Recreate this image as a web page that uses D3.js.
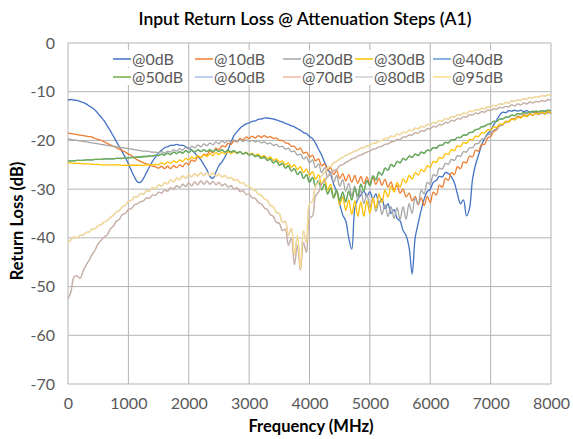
<!DOCTYPE html>
<html><head><meta charset="utf-8">
<script src="https://cdn.jsdelivr.net/npm/d3@7/dist/d3.min.js"></script>
<style>body{margin:0;background:#fff;}svg{display:block;font-family:Lato,"Noto Sans",sans-serif;}</style>
</head><body>
<svg id="c" width="573" height="439"></svg>
<script>
// Frequency sample grid (MHz), one sample every 50 MHz from 0 to 8000
const freqMHz = d3.range(0, 8001, 50);

const seriesNames = ["@0dB","@10dB","@20dB","@30dB","@40dB","@50dB","@60dB","@70dB","@80dB","@95dB"];
const seriesColors = ["#4472C4","#ED7D31","#A5A5A5","#FFC000","#5B9BD5","#70AD47","#A9C0E8","#F4B9A0","#B0B0B0","#FFDB8A"];
const legendColors = ["#4472C4","#ED7D31","#A5A5A5","#FFC000","#5B9BD5","#70AD47","#A9C0E8","#F4B9A0","#CFCFCF","#FFDB8A"];
const xTicks = [0,1000,2000,3000,4000,5000,6000,7000,8000];
const yTicks = [0,-10,-20,-30,-40,-50,-60,-70];

const rl0 = [-11.7,-11.6,-11.7,-11.8,-12.0,-12.2,-12.5,-12.9,-13.3,-13.8,-14.5,-15.2,-16.0,-17.0,-18.0,-19.1,-20.2,-21.3,-22.4,-23.5,
-24.8,-26.2,-27.5,-28.5,-28.6,-27.8,-26.6,-25.4,-24.3,-23.4,-22.6,-22.0,-21.5,-21.3,-21.0,-21.0,-20.8,-21.0,-21.0,-21.3,
-21.6,-22.0,-22.6,-23.3,-24.0,-25.0,-26.0,-27.4,-27.8,-26.5,-25.2,-24.4,-23.4,-22.0,-20.3,-19.0,-18.2,-17.5,-17.0,-16.6,
-16.4,-16.1,-16.0,-15.7,-15.6,-15.4,-15.4,-15.5,-15.6,-15.8,-16.0,-16.2,-16.5,-16.7,-17.0,-17.2,-17.6,-17.9,-18.4,-18.6,
-19.2,-19.6,-20.6,-21.8,-23.0,-24.5,-25.8,-27.0,-29.0,-30.5,-33.0,-35.3,-36.5,-40.0,-42.3,-34.0,-32.0,-31.2,-30.4,-31.5,
-30.5,-32.0,-31.0,-32.8,-32.0,-34.0,-33.0,-35.0,-34.2,-36.0,-36.5,-38.5,-39.5,-42.0,-47.4,-40.0,-37.0,-34.3,-32.0,-30.5,
-30.0,-28.6,-28.2,-27.4,-27.5,-26.6,-26.8,-27.5,-28.7,-31.0,-33.0,-32.2,-35.5,-34.0,-28.0,-25.0,-23.0,-21.0,-19.6,-18.6,
-18.0,-16.8,-15.8,-14.8,-14.2,-14.3,-13.9,-14.0,-13.8,-14.0,-13.8,-14.1,-13.9,-14.2,-14.0,-14.3,-14.1,-14.3,-14.1,-14.3,
-14.2];

const rl10 = [-18.5,-18.6,-18.7,-18.8,-18.9,-19.0,-19.1,-19.2,-19.3,-19.6,-19.8,-20.0,-20.3,-20.6,-20.9,-21.2,-21.5,-21.8,-22.1,-22.4,
-22.8,-23.1,-23.6,-24.0,-24.3,-24.6,-24.8,-25.0,-25.3,-25.4,-25.7,-25.3,-25.8,-25.3,-25.8,-25.2,-25.6,-25.0,-25.4,-24.6,
-25.0,-24.0,-24.3,-23.3,-23.6,-22.8,-23.0,-22.2,-22.5,-21.6,-21.9,-21.1,-21.3,-20.6,-20.8,-20.1,-20.3,-19.6,-19.9,-19.3,
-19.6,-19.1,-19.5,-19.0,-19.4,-19.0,-19.4,-19.2,-19.6,-19.5,-20.0,-20.0,-20.5,-20.6,-21.2,-21.2,-21.9,-21.6,-22.6,-22.4,
-23.4,-23.0,-24.2,-23.8,-25.2,-24.8,-26.2,-25.6,-27.0,-26.2,-27.8,-26.8,-28.3,-27.0,-28.6,-27.2,-28.8,-27.4,-28.9,-27.5,
-29.0,-27.6,-29.0,-27.8,-29.2,-28.0,-29.6,-28.5,-30.2,-29.2,-30.8,-30.0,-31.6,-30.8,-32.4,-31.5,-33.2,-31.8,-33.4,-31.5,
-32.8,-30.6,-31.2,-29.2,-29.6,-27.8,-28.2,-26.6,-27.0,-25.4,-25.8,-24.4,-24.6,-23.2,-23.4,-22.0,-22.2,-20.8,-20.8,-19.5,
-19.2,-18.2,-17.8,-17.0,-16.8,-16.1,-16.1,-15.5,-15.6,-15.0,-15.2,-14.7,-14.9,-14.5,-14.8,-14.3,-14.6,-14.2,-14.5,-14.1,
-14.4];

const rl20 = [-19.7,-19.8,-19.9,-20.0,-20.1,-20.2,-20.3,-20.4,-20.5,-20.6,-20.7,-20.8,-20.9,-21.0,-21.1,-21.2,-21.3,-21.4,-21.5,-21.6,
-21.7,-21.8,-21.9,-22.0,-22.1,-22.2,-22.2,-22.3,-22.4,-22.4,-22.5,-22.3,-22.6,-22.2,-22.4,-21.9,-22.2,-21.7,-22.0,-21.4,
-21.8,-21.2,-21.5,-20.9,-21.3,-20.7,-21.1,-20.5,-20.9,-20.3,-20.7,-20.1,-20.5,-20.0,-20.3,-19.9,-20.2,-19.9,-20.2,-19.9,
-20.2,-20.0,-20.3,-20.1,-20.5,-20.3,-20.7,-20.5,-21.0,-20.8,-21.3,-21.2,-21.8,-21.6,-22.3,-22.2,-23.0,-22.8,-23.8,-23.4,
-24.6,-24.0,-25.6,-24.8,-26.6,-25.6,-27.6,-26.4,-28.6,-27.2,-29.4,-28.0,-30.4,-28.8,-31.4,-29.4,-32.2,-30.2,-33.0,-31.0,
-33.8,-31.8,-34.6,-32.6,-35.2,-33.2,-35.6,-33.6,-36.0,-33.8,-36.2,-33.6,-36.2,-33.0,-35.0,-31.8,-33.2,-30.2,-31.0,-28.6,
-29.0,-27.0,-27.3,-25.7,-25.9,-24.7,-24.9,-23.9,-24.1,-23.1,-23.3,-22.3,-22.4,-21.5,-21.5,-20.7,-20.6,-19.8,-19.6,-18.9,
-18.6,-17.9,-17.6,-17.0,-16.8,-16.3,-16.2,-15.7,-15.7,-15.2,-15.3,-14.9,-15.0,-14.7,-14.8,-14.5,-14.7,-14.4,-14.6,-14.3,
-14.5];

const rl30 = [-24.6,-24.6,-24.7,-24.7,-24.7,-24.8,-24.8,-24.8,-24.9,-24.9,-24.9,-25.0,-25.0,-25.0,-25.0,-25.0,-25.0,-25.0,-25.1,-25.1,
-25.1,-25.1,-25.1,-25.1,-25.1,-25.1,-25.0,-25.0,-25.0,-24.9,-25.0,-24.6,-24.9,-24.4,-24.7,-24.2,-24.5,-24.0,-24.3,-23.7,
-24.0,-23.4,-23.7,-23.1,-23.5,-22.9,-23.3,-22.7,-23.1,-22.5,-22.9,-22.4,-22.8,-22.3,-22.7,-22.3,-22.7,-22.3,-22.8,-22.4,
-22.9,-22.6,-23.1,-22.8,-23.4,-23.1,-23.7,-23.4,-24.1,-23.8,-24.5,-24.2,-25.0,-24.6,-25.5,-25.0,-26.0,-25.4,-26.6,-25.9,
-27.2,-26.4,-28.0,-27.0,-29.0,-27.8,-30.2,-29.0,-31.6,-30.4,-33.2,-31.6,-34.4,-32.2,-35.2,-32.4,-35.6,-32.6,-35.6,-32.4,
-35.0,-31.8,-34.0,-31.0,-32.8,-30.2,-31.6,-29.4,-30.6,-28.6,-29.6,-27.9,-28.7,-27.2,-27.9,-26.6,-27.1,-26.0,-26.4,-25.2,
-25.5,-24.3,-24.5,-23.5,-23.7,-22.7,-22.9,-21.9,-22.1,-21.1,-21.3,-20.4,-20.6,-19.8,-19.9,-19.1,-19.2,-18.4,-18.5,-17.8,
-17.9,-17.2,-17.3,-16.6,-16.7,-16.1,-16.2,-15.6,-15.8,-15.2,-15.4,-14.9,-15.1,-14.6,-14.8,-14.4,-14.6,-14.2,-14.5,-14.1,
-14.4];

const rl50 = [-24.2,-24.2,-24.2,-24.1,-24.1,-24.1,-24.0,-24.0,-24.0,-23.9,-23.9,-23.9,-23.8,-23.8,-23.8,-23.8,-23.7,-23.7,-23.7,-23.6,
-23.6,-23.5,-23.5,-23.4,-23.4,-23.3,-23.3,-23.2,-23.2,-23.0,-23.1,-22.8,-23.0,-22.6,-22.9,-22.4,-22.7,-22.3,-22.6,-22.1,
-22.5,-22.0,-22.4,-21.9,-22.3,-21.9,-22.3,-21.9,-22.3,-21.9,-22.3,-21.9,-22.4,-22.0,-22.4,-22.1,-22.6,-22.3,-22.8,-22.5,
-23.0,-22.8,-23.3,-23.1,-23.7,-23.4,-24.1,-23.8,-24.6,-24.2,-25.1,-24.7,-25.7,-25.2,-26.3,-25.8,-27.0,-26.4,-27.8,-27.0,
-28.6,-27.6,-29.4,-28.2,-30.2,-29.0,-31.0,-29.8,-31.8,-30.2,-32.4,-30.6,-32.6,-30.4,-32.2,-29.8,-31.4,-29.0,-30.4,-28.2,
-29.3,-27.3,-28.1,-26.5,-27.1,-25.7,-26.1,-24.9,-25.4,-24.3,-24.6,-23.7,-24.0,-23.2,-23.5,-22.8,-23.1,-22.4,-22.6,-22.0,
-22.1,-21.5,-21.6,-21.0,-21.0,-20.4,-20.5,-19.9,-19.9,-19.4,-19.4,-18.9,-18.9,-18.4,-18.3,-17.8,-17.7,-17.2,-17.1,-16.7,
-16.6,-16.1,-16.1,-15.6,-15.6,-15.2,-15.2,-14.8,-14.9,-14.5,-14.6,-14.3,-14.4,-14.1,-14.2,-14.0,-14.1,-13.9,-14.0,-13.8,
-13.9];

const rl80 = [-52.5,-51.0,-48.0,-47.8,-48.3,-46.8,-45.6,-44.6,-43.4,-42.5,-41.2,-40.5,-39.8,-39.4,-38.2,-37.6,-36.6,-36.2,-35.2,-35.0,
-34.2,-34.0,-33.2,-33.0,-32.6,-32.4,-31.8,-31.9,-31.2,-31.3,-30.6,-30.8,-30.2,-30.4,-29.7,-30.0,-29.3,-29.7,-29.0,-29.5,
-28.7,-29.3,-28.5,-29.1,-28.3,-29.0,-28.3,-29.0,-28.4,-29.1,-28.6,-29.3,-28.9,-29.6,-29.3,-30.0,-29.7,-30.5,-30.3,-31.1,
-31.0,-31.8,-31.9,-32.7,-33.0,-33.8,-34.2,-35.2,-35.6,-36.8,-37.0,-38.5,-38.2,-41.5,-40.0,-45.5,-41.5,-46.6,-41.0,-43.0,
-36.0,-35.5,-31.4,-30.6,-29.0,-28.4,-27.4,-27.0,-26.2,-26.0,-25.2,-25.0,-24.5,-24.2,-23.8,-23.6,-23.2,-23.0,-22.7,-22.4,
-22.2,-21.8,-21.7,-21.3,-21.2,-20.8,-20.7,-20.3,-20.2,-19.8,-19.8,-19.3,-19.3,-18.9,-18.9,-18.4,-18.5,-18.0,-18.1,-17.6,
-17.6,-17.1,-17.2,-16.7,-16.8,-16.3,-16.4,-15.9,-16.0,-15.5,-15.6,-15.1,-15.2,-14.7,-14.8,-14.4,-14.5,-14.1,-14.2,-13.8,
-13.9,-13.5,-13.6,-13.2,-13.3,-13.0,-13.1,-12.7,-12.9,-12.5,-12.7,-12.3,-12.5,-12.1,-12.3,-12.0,-12.1,-11.8,-12.0,-11.6,
-11.8];

const rl95 = [-41.0,-40.4,-39.8,-40.0,-39.5,-39.4,-38.9,-38.8,-38.2,-38.1,-37.5,-37.3,-36.7,-36.5,-35.8,-35.4,-34.7,-34.4,-33.6,-33.3,
-32.5,-32.3,-31.6,-31.6,-30.9,-31.0,-30.3,-30.4,-29.7,-29.9,-29.1,-29.4,-28.6,-28.9,-28.1,-28.5,-27.7,-28.1,-27.3,-27.8,
-27.0,-27.5,-26.8,-27.3,-26.6,-27.2,-26.6,-27.2,-26.7,-27.3,-26.9,-27.5,-27.2,-27.8,-27.6,-28.2,-28.0,-28.7,-28.6,-29.3,
-29.3,-30.1,-30.2,-31.0,-31.2,-32.0,-32.3,-33.3,-33.6,-34.8,-35.0,-36.8,-36.6,-39.5,-38.0,-43.5,-39.5,-46.3,-38.5,-41.0,
-33.0,-32.5,-29.4,-28.6,-27.2,-26.6,-25.6,-25.3,-24.6,-24.3,-23.8,-23.5,-23.1,-22.8,-22.5,-22.2,-22.0,-21.6,-21.5,-21.1,
-21.0,-20.6,-20.5,-20.1,-20.0,-19.6,-19.6,-19.1,-19.2,-18.7,-18.8,-18.3,-18.4,-17.9,-18.0,-17.5,-17.6,-17.1,-17.2,-16.7,
-16.8,-16.3,-16.4,-15.9,-16.0,-15.5,-15.6,-15.1,-15.2,-14.7,-14.8,-14.4,-14.5,-14.0,-14.1,-13.7,-13.8,-13.4,-13.5,-13.1,
-13.2,-12.8,-12.9,-12.5,-12.6,-12.2,-12.3,-11.9,-12.0,-11.7,-11.8,-11.4,-11.5,-11.2,-11.3,-11.0,-11.1,-10.8,-10.9,-10.6,
-10.7];

// Series hidden underneath others in the reference (they coincide with neighbours)
const rl40 = rl50;
const rl60 = rl95;
const rl70 = rl80;

const seriesValues = [rl0, rl10, rl20, rl30, rl40, rl50, rl60, rl70, rl80, rl95];
const seriesOpacity = [1,1,1,1,1,1,1,1,0.75,1];

const svg = d3.select("#c");
const m = {left:68, right:22, top:43, bottom:55};
const W = 573, H = 439;
const x = d3.scaleLinear().domain([0,8000]).range([m.left, W-m.right]);
const y = d3.scaleLinear().domain([-70,0]).range([H-m.bottom, m.top]);

// gridlines
svg.append("g").selectAll("line").data(yTicks).join("line")
  .attr("x1", x(0)).attr("x2", x(8000))
  .attr("y1", d=>y(d)).attr("y2", d=>y(d))
  .attr("stroke", "#b3b3b3").attr("stroke-width", 1);
svg.append("g").selectAll("line").data(xTicks).join("line")
  .attr("y1", y(0)).attr("y2", y(-70))
  .attr("x1", d=>x(d)).attr("x2", d=>x(d))
  .attr("stroke", "#b3b3b3").attr("stroke-width", 1);

// axes labels
const xa = svg.append("g").attr("transform", `translate(0,${y(-70)})`)
  .call(d3.axisBottom(x).tickValues(xTicks).tickSize(0).tickPadding(14).tickFormat(d=>String(d)));
xa.select(".domain").remove();
xa.selectAll("text").attr("font-size", 16).attr("fill", "#595959").attr("font-family","Lato");
const ya = svg.append("g").attr("transform", `translate(${x(0)},0)`)
  .call(d3.axisLeft(y).tickValues(yTicks).tickSize(0).tickPadding(13).tickFormat(d=>String(d)));
ya.select(".domain").remove();
ya.selectAll("text").attr("font-size", 16).attr("fill", "#595959").attr("font-family","Lato");

// lines
const line = d3.line().x((d,i)=>x(freqMHz[i])).y(d=>y(d)).curve(d3.curveCatmullRom.alpha(0.5));
svg.append("g").selectAll("path").data(seriesValues).join("path")
  .attr("d", d=>line(d))
  .attr("fill","none")
  .attr("stroke",(d,i)=>seriesColors[i])
  .attr("stroke-opacity",(d,i)=>seriesOpacity[i])
  .attr("stroke-width",1.3)
  .attr("stroke-linejoin","round");

// legend
const legX = [113,195,283,355,433];
const legY = [59,77];
const lg = svg.append("g").selectAll("g").data(seriesNames).join("g")
  .attr("transform",(d,i)=>`translate(${legX[i%5]},${legY[Math.floor(i/5)]})`);
lg.append("rect").attr("x",-2).attr("y",-9).attr("width",d=>20+d.length*9.2).attr("height",17).attr("fill","#fff");
lg.append("line").attr("x1",0).attr("x2",18).attr("y1",0).attr("y2",0)
  .attr("stroke",(d,i)=>legendColors[i]).attr("stroke-width",1.5);
lg.append("text").attr("x",19).attr("y",0).attr("dy","0.35em")
  .attr("font-size",16).attr("fill","#595959").text(d=>d);

// titles
svg.append("text").attr("x",305).attr("y",25).attr("text-anchor","middle")
  .attr("font-size",17.5).attr("font-weight",600).attr("fill","#000")
  .text("Input Return Loss @ Attenuation Steps (A1)");
svg.append("text").attr("x",311).attr("y",432).attr("text-anchor","middle")
  .attr("font-size",16.5).attr("font-weight",700).attr("fill","#000")
  .text("Frequency (MHz)");
svg.append("text").attr("transform","translate(23,221) rotate(-90)").attr("text-anchor","middle")
  .attr("font-size",16.5).attr("font-weight",700).attr("fill","#000")
  .text("Return Loss (dB)");
</script>
</body></html>
